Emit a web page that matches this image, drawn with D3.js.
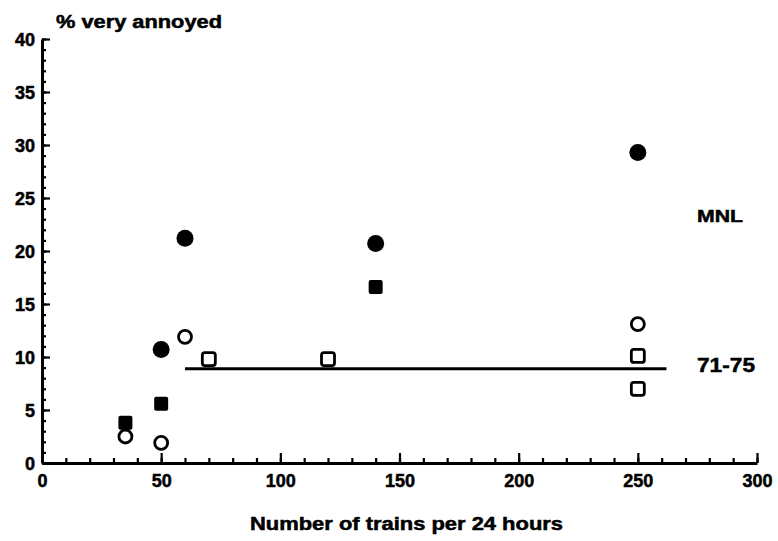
<!DOCTYPE html>
<html>
<head>
<meta charset="utf-8">
<script src="https://cdn.jsdelivr.net/npm/d3@7"></script>
<style>
  body { margin: 0; background: #fff; }
  svg text { font-family: "Liberation Sans", Arial, sans-serif; font-weight: 700; fill: #000; stroke: #000; stroke-width: 0.5px; }
</style>
</head>
<body>
<svg id="chart" width="778" height="541"></svg>
<script>
// values (trains per 24 h, % very annoyed)
const filledCircles = [[50, 10.7], [60, 21.2], [140, 20.7], [250, 29.3]];
const filledSquares = [[35, 3.8], [50, 5.6], [140, 16.6]];
const openCircles = [[35, 2.5], [50, 1.9], [60, 11.9], [250, 13.1]];
const openSquares = [[70, 9.8], [120, 9.8], [250, 10.1], [250, 7.0]];
const fitLine = [[60, 8.9], [262, 8.9]];

const xMajor = [0, 50, 100, 150, 200, 250, 300];
const yMajor = [0, 5, 10, 15, 20, 25, 30, 35, 40];

const svg = d3.select('#chart');

const x = d3.scaleLinear().domain([0, 300]).range([42, 757]);
const y = d3.scaleLinear().domain([0, 40]).range([463, 39]);

// minor ticks
svg.append('g')
  .attr('transform', 'translate(0,' + y(0) + ')')
  .call(d3.axisBottom(x).tickValues(d3.range(0, 301, 10)).tickSize(-5).tickSizeOuter(0).tickFormat(''))
  .call(g => g.select('.domain').remove());
svg.append('g')
  .attr('transform', 'translate(' + x(0) + ',0)')
  .call(d3.axisLeft(y).tickValues(d3.range(0, 41, 1)).tickSize(-4).tickSizeOuter(0).tickFormat(''))
  .call(g => g.select('.domain').remove());

// major ticks + labels
const xAxis = svg.append('g')
  .attr('transform', 'translate(0,' + y(0) + ')')
  .call(d3.axisBottom(x).tickValues(xMajor).tickSize(-10).tickSizeOuter(0).tickPadding(10));
const yAxis = svg.append('g')
  .attr('transform', 'translate(' + x(0) + ',0)')
  .call(d3.axisLeft(y).tickValues(yMajor).tickSize(-8).tickSizeOuter(0).tickPadding(7));

svg.selectAll('.tick line').attr('stroke', '#000').attr('stroke-width', 2.2);
svg.selectAll('.domain').attr('stroke', '#000').attr('stroke-width', 3);
xAxis.selectAll('text').attr('font-size', 18).attr('dy', '0.75em');
yAxis.selectAll('text').attr('font-size', 18).attr('dy', '0.36em');

// axis titles
svg.append('text')
  .attr('x', 56).attr('y', 28)
  .attr('font-size', 18)
  .attr('textLength', 166)
  .attr('lengthAdjust', 'spacingAndGlyphs')
  .text('% very annoyed');
svg.append('text')
  .attr('x', 250).attr('y', 530)
  .attr('font-size', 18)
  .attr('textLength', 313)
  .attr('lengthAdjust', 'spacingAndGlyphs')
  .text('Number of trains per 24 hours');

// fitted line
svg.append('path')
  .datum(fitLine)
  .attr('d', d3.line().x(d => x(d[0])).y(d => y(d[1])))
  .attr('stroke', '#000')
  .attr('stroke-width', 3)
  .attr('fill', 'none');

// markers
svg.append('g').selectAll('circle')
  .data(filledCircles)
  .enter()
  .append('circle')
  .attr('cx', d => x(d[0]))
  .attr('cy', d => y(d[1]))
  .attr('r', 8.5)
  .attr('fill', '#000');

svg.append('g').selectAll('rect')
  .data(filledSquares)
  .enter()
  .append('rect')
  .attr('x', d => x(d[0]) - 7)
  .attr('y', d => y(d[1]) - 7)
  .attr('width', 14)
  .attr('height', 14)
  .attr('rx', 2)
  .attr('fill', '#000');

svg.append('g').selectAll('circle')
  .data(openCircles)
  .enter()
  .append('circle')
  .attr('cx', d => x(d[0]))
  .attr('cy', d => y(d[1]))
  .attr('r', 6.5)
  .attr('fill', '#fff')
  .attr('stroke', '#000')
  .attr('stroke-width', 2.8);

svg.append('g').selectAll('rect')
  .data(openSquares)
  .enter()
  .append('rect')
  .attr('x', d => x(d[0]) - 6.5)
  .attr('y', d => y(d[1]) - 6.5)
  .attr('width', 13)
  .attr('height', 13)
  .attr('rx', 2.5)
  .attr('fill', '#fff')
  .attr('stroke', '#000')
  .attr('stroke-width', 2.8);

// annotations
svg.append('text')
  .attr('x', 697).attr('y', 222)
  .attr('font-size', 17)
  .attr('textLength', 46)
  .attr('lengthAdjust', 'spacingAndGlyphs')
  .text('MNL');
svg.append('text')
  .attr('x', 697).attr('y', 372)
  .attr('font-size', 20)
  .attr('textLength', 58)
  .attr('lengthAdjust', 'spacingAndGlyphs')
  .text('71-75');
</script>
</body>
</html>
